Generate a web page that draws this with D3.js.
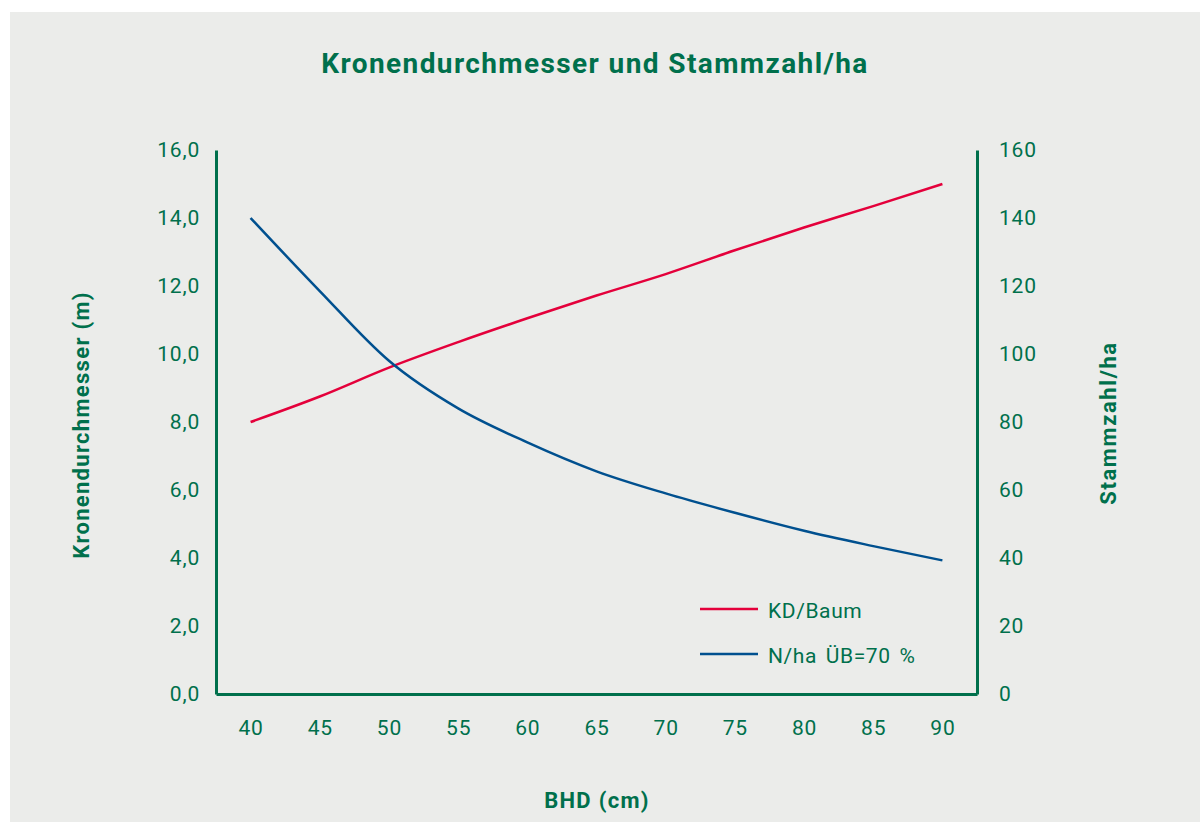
<!DOCTYPE html>
<html>
<head>
<meta charset="utf-8">
<script src="https://cdn.jsdelivr.net/npm/d3@7"></script>
<style>
  html, body { margin: 0; padding: 0; background: #ffffff; }
  svg { display: block; font-family: Roboto, "Noto Sans", sans-serif; }
</style>
</head>
<body>
<div id="chart"></div>
<script>
// BHD (cm)
var bhd = [40, 45, 50, 55, 60, 65, 70, 75, 80, 85, 90];
// Kronendurchmesser je Baum (m)
var kdBaum = [8.0, 8.75, 9.6, 10.35, 11.05, 11.72, 12.35, 13.05, 13.72, 14.35, 15.0];
// Stammzahl/ha bei ÜB=70 %
var nHa = [140, 118.5, 98, 84, 74, 65.5, 59, 53.3, 48, 43.5, 39.3];
// Achsenbeschriftung
var leftTicks = [0, 2, 4, 6, 8, 10, 12, 14, 16];
var rightTicks = [0, 20, 40, 60, 80, 100, 120, 140, 160];
var seriesNames = ['KD/Baum', 'N/ha ÜB=70 %'];

var green = '#00704c';
var colors = ['#e4003b', '#00508f'];

var width = 1200, height = 823;
var margin = { left: 216, right: 223, top: 150, bottom: 129 };

var svg = d3.select('#chart').append('svg')
    .attr('width', width)
    .attr('height', height);

// Hintergrund
svg.append('rect')
    .attr('x', 10).attr('y', 12)
    .attr('width', width - 10).attr('height', height - 13)
    .style('fill', '#ebecea');

var x = d3.scaleLinear()
    .domain([37.5, 92.5])
    .range([margin.left, width - margin.right]);
var yL = d3.scaleLinear()
    .domain([0, 16])
    .range([height - margin.bottom, margin.top]);
var yR = d3.scaleLinear()
    .domain([0, 160])
    .range([height - margin.bottom, margin.top]);

// Achsen
var fmt = function (d) { return d3.format('.1f')(d).replace('.', ','); };
var axL = svg.append('g')
    .attr('transform', 'translate(' + margin.left + ',0)')
    .call(d3.axisLeft(yL).tickValues(leftTicks).tickFormat(fmt).tickSize(0).tickPadding(16));
var axR = svg.append('g')
    .attr('transform', 'translate(' + (width - margin.right) + ',0)')
    .call(d3.axisRight(yR).tickValues(rightTicks).tickSize(0).tickPadding(22));
var axB = svg.append('g')
    .attr('transform', 'translate(0,' + (height - margin.bottom) + ')')
    .call(d3.axisBottom(x).tickValues(bhd).tickSize(0).tickPadding(26));

[axL, axR, axB].forEach(function (a) {
    a.select('.domain').style('stroke', green).style('stroke-width', 3);
    a.selectAll('text')
        .style('fill', green)
        .style('font-size', '21px')
        .style('letter-spacing', '0.8px')
        .style('font-family', 'Roboto, "Noto Sans", sans-serif');
});

// Linien
var lineL = d3.line()
    .x(function (d, i) { return x(bhd[i]); })
    .y(function (d) { return yL(d); })
    .curve(d3.curveMonotoneX);
var lineR = d3.line()
    .x(function (d, i) { return x(bhd[i]); })
    .y(function (d) { return yR(d); })
    .curve(d3.curveMonotoneX);

svg.append('path')
    .datum(kdBaum)
    .attr('d', lineL)
    .style('fill', 'none')
    .style('stroke', colors[0])
    .style('stroke-width', 2.5);
svg.append('path')
    .datum(nHa)
    .attr('d', lineR)
    .style('fill', 'none')
    .style('stroke', colors[1])
    .style('stroke-width', 2.5);

// Titel
svg.append('text')
    .attr('x', 595).attr('y', 73)
    .attr('text-anchor', 'middle')
    .style('fill', green)
    .style('font-size', '28px')
    .style('font-weight', 'bold')
    .style('letter-spacing', '1.4px')
    .text('Kronendurchmesser und Stammzahl/ha');

// Achsentitel
svg.append('text')
    .attr('transform', 'translate(89,425) rotate(-90)')
    .attr('text-anchor', 'middle')
    .style('fill', green)
    .style('font-size', '22px')
    .style('font-weight', 'bold')
    .style('letter-spacing', '1.3px')
    .text('Kronendurchmesser (m)');
svg.append('text')
    .attr('transform', 'translate(1116,423) rotate(-90)')
    .attr('text-anchor', 'middle')
    .style('fill', green)
    .style('font-size', '22px')
    .style('font-weight', 'bold')
    .style('letter-spacing', '1.6px')
    .text('Stammzahl/ha');
svg.append('text')
    .attr('x', 597).attr('y', 808)
    .attr('text-anchor', 'middle')
    .style('fill', green)
    .style('font-size', '22px')
    .style('font-weight', 'bold')
    .style('letter-spacing', '1.3px')
    .text('BHD (cm)');

// Legende
var lg = svg.append('g').attr('transform', 'translate(700,609)');
seriesNames.forEach(function (name, i) {
    var g = lg.append('g').attr('transform', 'translate(0,' + (i * 45) + ')');
    g.append('line')
        .attr('x1', 0).attr('x2', 58)
        .attr('y1', 0).attr('y2', 0)
        .style('stroke', colors[i])
        .style('stroke-width', 2.5);
    g.append('text')
        .attr('x', 68).attr('y', 0)
        .attr('dy', '0.45em')
        .style('fill', green)
        .style('font-size', '21px')
        .style('letter-spacing', '0.6px')
        .style('word-spacing', '3px')
        .text(name);
});
</script>
</body>
</html>
